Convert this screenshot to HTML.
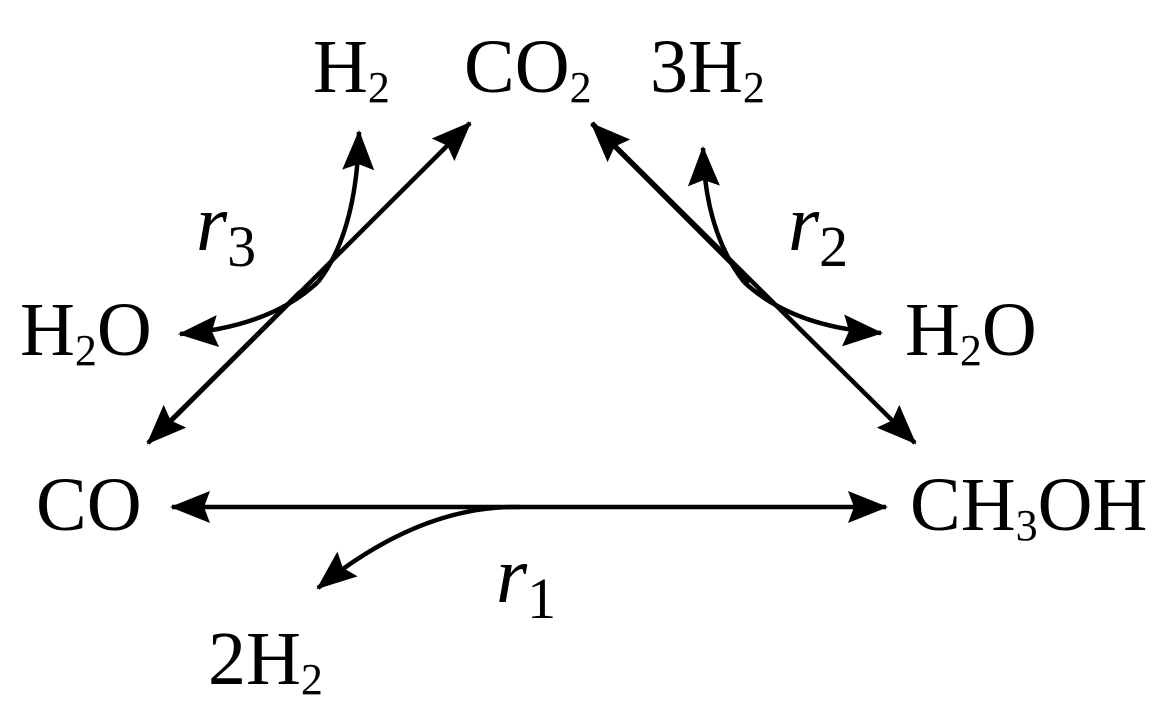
<!DOCTYPE html>
<html><head><style>html,body{margin:0;padding:0;background:#fff}</style></head>
<body>
<svg width="1169" height="713" viewBox="0 0 1169 713" xmlns="http://www.w3.org/2000/svg">
<defs>
<marker id="a" markerUnits="userSpaceOnUse" markerWidth="44" markerHeight="36" refX="38" refY="16" orient="auto" overflow="visible">
<path d="M0,0 L40,16 L0,32 L6,16 Z" fill="#000" stroke="none"/>
</marker>
</defs>
<g stroke="#000" stroke-width="4.5" fill="none">
<line x1="165" y1="427" x2="470" y2="123" marker-end="url(#a)"/>
<line x1="300" y1="292" x2="148" y2="443" marker-end="url(#a)"/>
<line x1="592" y1="123" x2="915" y2="443" marker-end="url(#a)"/>
<line x1="750" y1="282" x2="592" y2="124" marker-end="url(#a)"/>
<line x1="520" y1="507" x2="886" y2="507" marker-end="url(#a)"/>
<line x1="520" y1="507" x2="172" y2="507" marker-end="url(#a)"/>
<path d="M318,282 Q357,232 359,132" marker-end="url(#a)"/>
<path d="M318,282 Q270,327 180,334" marker-end="url(#a)"/>
<path d="M744,282 Q705,232 703,148" marker-end="url(#a)"/>
<path d="M744,282 Q792,327 881,333" marker-end="url(#a)"/>
<path d="M520,507 Q420,505 318,588" marker-end="url(#a)"/>
</g>
<g font-family="Liberation Serif, serif" font-size="76" fill="#000">
<text x="313" y="92">H<tspan font-size="44" dy="10">2</tspan></text>
<text x="464" y="92">CO<tspan font-size="44" dy="10">2</tspan></text>
<text x="650" y="92">3H<tspan font-size="44" dy="10">2</tspan></text>
<text x="20" y="355">H<tspan font-size="44" dy="10">2</tspan><tspan dy="-10">O</tspan></text>
<text x="905" y="355">H<tspan font-size="44" dy="10">2</tspan><tspan dy="-10">O</tspan></text>
<text x="36" y="530">CO</text>
<text x="910" y="530">CH<tspan font-size="44" dy="10">3</tspan><tspan dy="-10">OH</tspan></text>
<text x="208" y="684">2H<tspan font-size="44" dy="10">2</tspan></text>
<text x="196" y="250" font-style="italic" font-size="80">r<tspan font-style="normal" font-size="58" dy="16">3</tspan></text>
<text x="788" y="250" font-style="italic" font-size="80">r<tspan font-style="normal" font-size="58" dy="16">2</tspan></text>
<text x="496" y="602" font-style="italic" font-size="80">r<tspan font-style="normal" font-size="58" dy="16">1</tspan></text>
</g>
</svg>
</body></html>
